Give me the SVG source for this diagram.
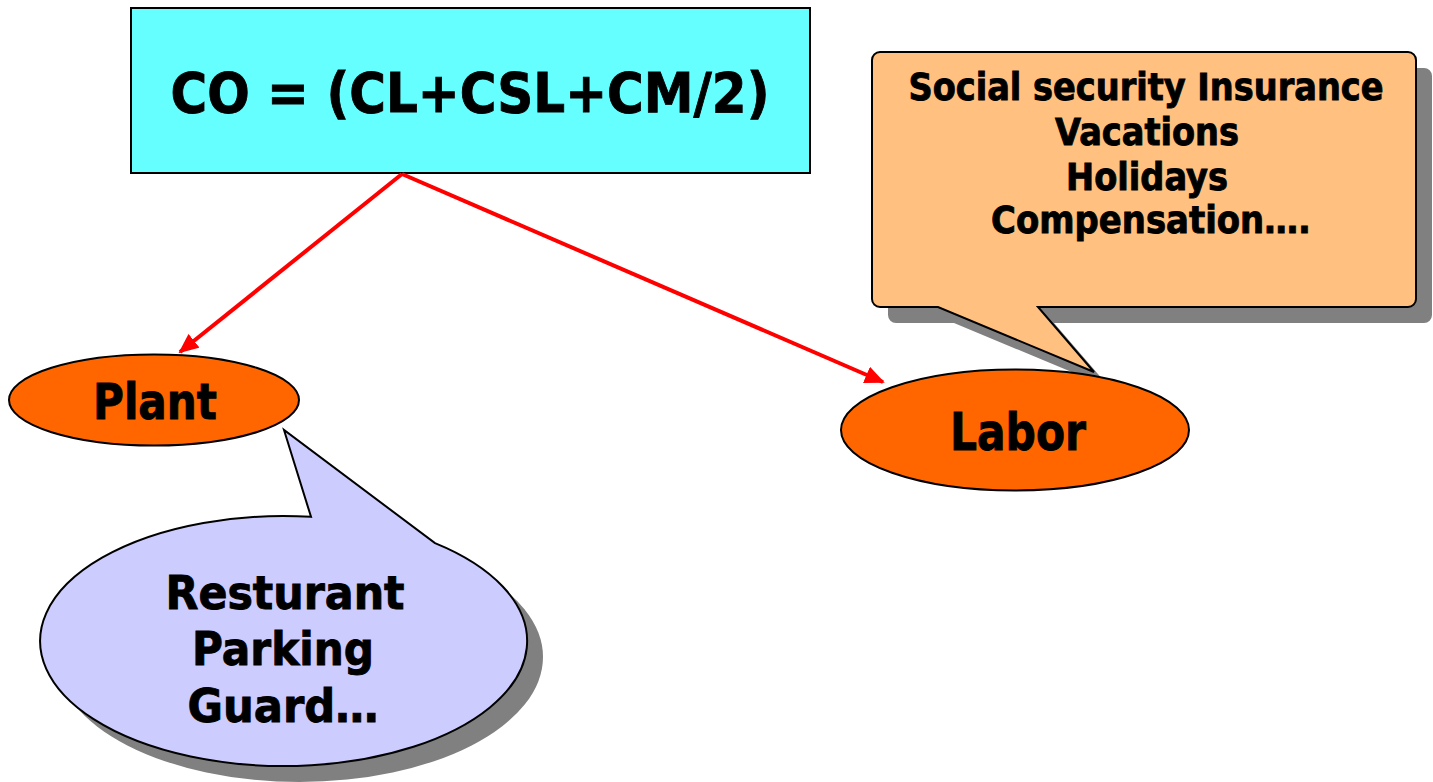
<svg xmlns="http://www.w3.org/2000/svg" width="1433" height="782" viewBox="0 0 1433 782">
  <defs>
    <marker id="arrowhead" viewBox="0 0 10 10" refX="9" refY="5" markerWidth="5" markerHeight="4.4" markerUnits="strokeWidth" orient="auto" preserveAspectRatio="none">
      <path d="M0,0 L10,5 L0,10 z" fill="#FF0000"/>
    </marker>
  </defs>
  <style>
    text { font-family: "DejaVu Sans", "Liberation Sans", sans-serif; font-weight: bold; fill: #000; stroke: #000; stroke-width: 0.9; text-anchor: middle; }
    .outline { stroke: #000; stroke-width: 2; }
    .shadow { fill: #808080; }
    .connector { stroke: #FF0000; stroke-width: 4; fill: none; marker-end: url(#arrowhead); }
  </style>

  <rect width="1433" height="782" fill="#FFFFFF"/>

  <!-- formula box -->
  <g id="formula">
    <rect class="outline" x="131" y="8" width="679" height="165" fill="#66FFFF"/>
    <text x="470" y="112" font-size="55" textLength="599" lengthAdjust="spacingAndGlyphs">CO = (CL+CSL+CM/2)</text>
  </g>

  <!-- connectors -->
  <g id="connectors">
    <line class="connector" x1="402" y1="174" x2="180" y2="352"/>
    <line class="connector" x1="402" y1="174" x2="883" y2="382"/>
  </g>

  <!-- labor callout -->
  <g id="labor-note">
    <path class="shadow" d="M896,68 H1424 A8,8 0 0 1 1432,76 V315 A8,8 0 0 1 1424,323 H1054 L1110,388 L954,323 H896 A8,8 0 0 1 888,315 V76 A8,8 0 0 1 896,68 Z"/>
    <path class="outline" fill="#FFC080" d="M880,52 H1408 A8,8 0 0 1 1416,60 V299 A8,8 0 0 1 1408,307 H1038 L1094,372 L938,307 H880 A8,8 0 0 1 872,299 V60 A8,8 0 0 1 880,52 Z"/>
    <text x="1146" y="100" font-size="37" textLength="475" lengthAdjust="spacingAndGlyphs">Social security Insurance</text>
    <text x="1147" y="145" font-size="37" textLength="184" lengthAdjust="spacingAndGlyphs">Vacations</text>
    <text x="1147" y="190" font-size="37" textLength="162" lengthAdjust="spacingAndGlyphs">Holidays</text>
    <text x="1151" y="233" font-size="37" textLength="320" lengthAdjust="spacingAndGlyphs">Compensation….</text>
  </g>

  <!-- plant callout -->
  <g id="plant-note">
    <ellipse class="shadow" cx="299.5" cy="657" rx="243.5" ry="125"/>
    <path class="outline" fill="#CCCCFF" d="M311,516.8 L284,430 L435,543.1 A243.5,125 0 1 1 311,516.8 Z"/>
    <text x="285" y="609" font-size="46" textLength="239" lengthAdjust="spacingAndGlyphs">Resturant</text>
    <text x="283" y="665" font-size="46" textLength="182" lengthAdjust="spacingAndGlyphs">Parking</text>
    <text x="283" y="722" font-size="46" textLength="191" lengthAdjust="spacingAndGlyphs">Guard…</text>
  </g>

  <!-- plant node -->
  <g id="plant">
    <ellipse class="outline" cx="154" cy="400" rx="145" ry="45.5" fill="#FF6600"/>
    <text x="155" y="419" font-size="49" textLength="124" lengthAdjust="spacingAndGlyphs">Plant</text>
  </g>

  <!-- labor node -->
  <g id="labor">
    <ellipse class="outline" cx="1015" cy="430" rx="174" ry="60.5" fill="#FF6600"/>
    <text x="1018" y="450" font-size="51" textLength="136" lengthAdjust="spacingAndGlyphs">Labor</text>
  </g>
</svg>
